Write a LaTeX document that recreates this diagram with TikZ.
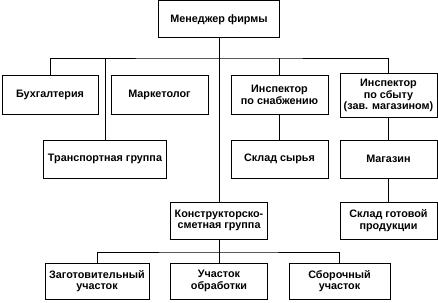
\documentclass[tikz,border=0pt]{standalone}
\usepackage{fontspec}
\setmainfont{Liberation Sans}
\begin{document}
\begin{tikzpicture}[x=1pt,y=-1pt,
  box/.style={draw=black,line width=1pt,fill=white,align=center,inner sep=1pt,
    font=\bfseries\fontsize{10.8}{11.6}\selectfont,minimum height=38pt},
  conn/.style={draw=black,line width=0.8pt}]
\useasboundingbox (0,0) rectangle (438,302);
\node[box,minimum width=121pt,minimum height=37pt] (man) at (219,19.5) {Менеджер фирмы};
\node[box,minimum width=96pt] (buh) at (50,95) {Бухгалтерия};
\node[box,minimum width=97pt] (mark) at (159.5,95) {Маркетолог};
\node[box,minimum width=97pt] (snab) at (279.5,95) {Инспектор\\по снабжению};
\node[box,minimum width=97pt,minimum height=43pt] (sbyt) at (388.5,95.5) {Инспектор\\по сбыту\\(зав. магазином)};
\node[box,minimum width=123pt] (trans) at (105,159) {Транспортная группа};
\node[box,minimum width=97pt] (skl) at (279.5,159) {Склад сырья};
\node[box,minimum width=97pt] (mag) at (388.5,159) {Магазин};
\node[box,minimum width=97pt,minimum height=37pt] (kon) at (219,220.5) {Конструкторско-\\сметная группа};
\node[box,minimum width=97pt,minimum height=37pt] (got) at (388.5,220.5) {Склад готовой\\продукции};
\node[box,minimum width=104pt,minimum height=36pt] (zag) at (97,281) {Заготовительный\\участок};
\node[box,minimum width=97pt,minimum height=36pt] (obr) at (219,281) {Участок\\обработки};
\node[box,minimum width=101pt,minimum height=36pt] (sbo) at (339.5,281) {Сборочный\\участок};
\coordinate (bus) at (219,58);
\coordinate (bus2) at (219,252);
\draw[conn] (man.south) -- (kon.north);
\draw[conn] (buh.north) |- (bus) -| (sbyt.north);
\draw[conn] (trans.north) -- (trans.north |- bus);
\draw[conn] (snab.north) -- (snab.north |- bus);
\draw[conn] (snab.south) -- (skl.north);
\draw[conn] (sbyt.south) -- (mag.north);
\draw[conn] (mag.south) -- (got.north);
\draw[conn] (zag.north) |- (bus2) -| (sbo.north);
\draw[conn] (kon.south) -- (obr.north);
\end{tikzpicture}
\end{document}
